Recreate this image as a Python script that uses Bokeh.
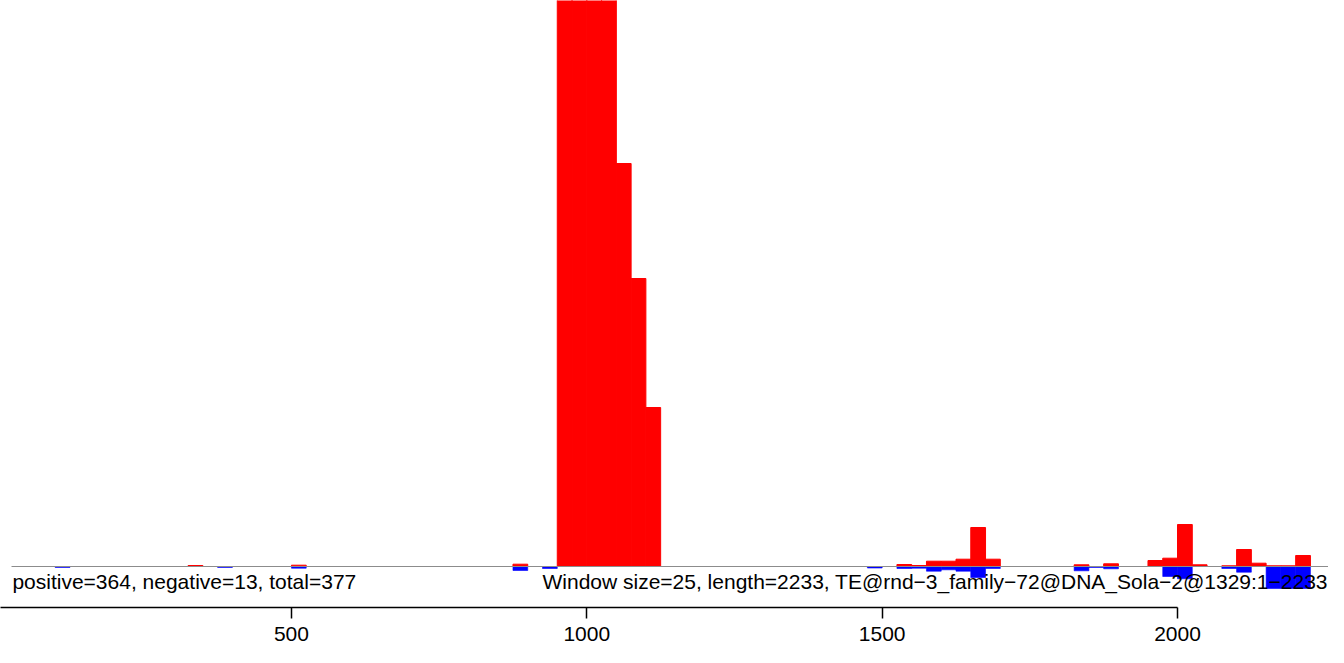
from bokeh.plotting import figure
from bokeh.models import Range1d, Label, FixedTicker
from bokeh.embed import file_html
from bokeh.resources import INLINE

# ---- data (window start, counts) ----
window_size = 25
seq_length = 2233
window_starts = [100, 325, 375, 500, 875, 925, 950, 975, 1000, 1025, 1050, 1075,
                 1100, 1475, 1525, 1550, 1575, 1600, 1625, 1650, 1675, 1825, 1850,
                 1875, 1950, 1975, 2000, 2025, 2075, 2100, 2125, 2150, 2175, 2200]
positive_vals = [0, 1, 0, 1.3, 2.3, 0, 980, 1000, 940, 760, 403, 288,
                 159, 0, 2, 1, 5.3, 5.3, 7.3, 39, 7.3, 1.7, 0,
                 2.7, 6, 8.3, 42, 1.7, 0.7, 17, 3.3, 0.7, 0.7, 11]
negative_vals = [1, 0, 1, 1.7, 4, 2, 0, 0, 0, 0, 0, 0,
                 0, 1.5, 2, 1.7, 4.7, 3.3, 4.7, 11, 2, 4.3, 1,
                 2.3, 0, 10, 12.3, 0, 2, 5.7, 0, 22, 22, 22]
tick_values = [0, 500, 1000, 1500, 2000]
left_text = "positive=364, negative=13, total=377"
right_text = "Window size=25, length=2233, TE@rnd\u22123_family\u221272@DNA_Sola\u22122@1329:1\u22122233"

FONT = "Liberation Sans"

x0, x1 = 7.45, 2255.6
plot_left = 26.1  # where the plotting region (baseline) starts
p = figure(width=1328, height=647,
           x_range=Range1d(x0, x1), y_range=Range1d(-41, 566),
           min_border_left=0, min_border_right=0, min_border_top=0,
           min_border_bottom=40,
           toolbar_location=None, output_backend="svg")

pos = [(s, v) for s, v in zip(window_starts, positive_vals) if v > 0]
neg = [(s, v) for s, v in zip(window_starts, negative_vals) if v > 0]

p.quad(left=[s for s, _ in pos], right=[s + window_size for s, _ in pos],
       bottom=0, top=[v for _, v in pos],
       fill_color="#ff0000", line_color="#ff0000", line_width=1)
p.quad(left=[s for s, _ in neg], right=[s + window_size for s, _ in neg],
       bottom=[-v for _, v in neg], top=0,
       fill_color="#0000ff", line_color="#0000ff", line_width=0.6)

p.segment(x0=[plot_left], y0=[0], x1=[x1], y1=[0],
          line_color="#8c8c8c", line_width=1)

p.add_layout(Label(x=plot_left + 1.5, y=-15, text=left_text, text_font=FONT,
                   text_font_size="21px", text_color="black",
                   text_align="left", text_baseline="middle"))
p.add_layout(Label(x=x1 - 1, y=-15, text=right_text, text_font=FONT,
                   text_font_size="21px", text_color="black",
                   text_align="right", text_baseline="middle"))

p.yaxis.visible = False
p.xgrid.visible = False
p.ygrid.visible = False
p.outline_line_color = None

ax = p.xaxis[0]
ax.ticker = FixedTicker(ticks=tick_values)
ax.bounds = (tick_values[0], tick_values[-1])
ax.minor_tick_line_color = None
ax.major_tick_in = 0
ax.major_tick_out = 11
ax.axis_line_width = 1.5
ax.major_tick_line_width = 1.5
ax.axis_line_color = "black"
ax.major_tick_line_color = "black"
ax.major_label_text_font = FONT
ax.major_label_text_font_size = "21px"
ax.major_label_text_color = "black"
ax.major_label_standoff = 8

open("out.html", "w").write(file_html(p, INLINE))
